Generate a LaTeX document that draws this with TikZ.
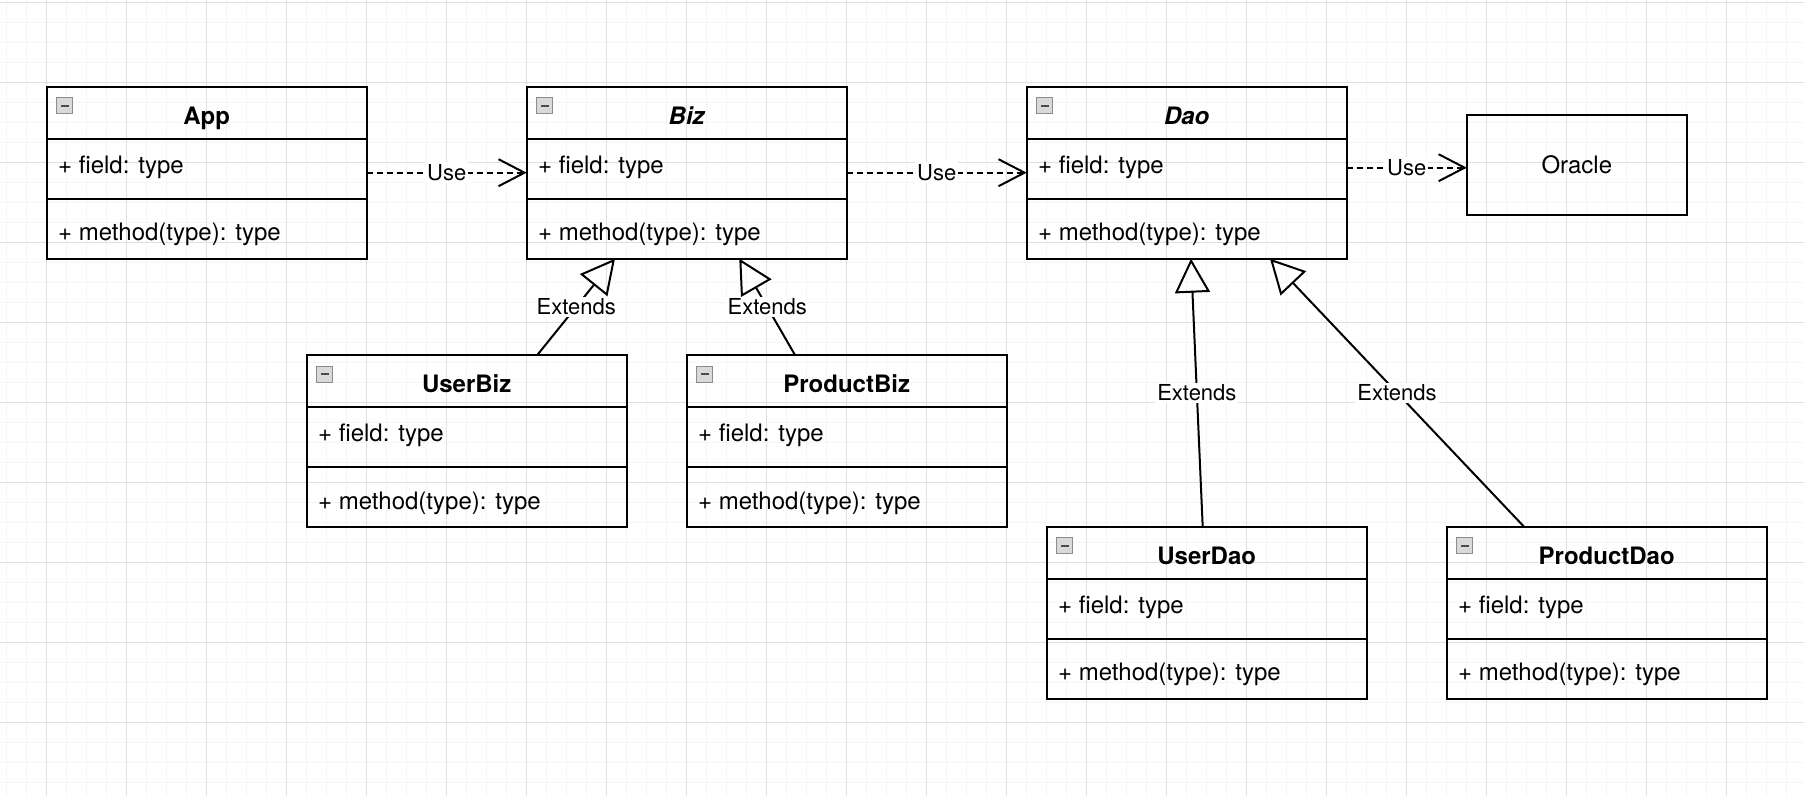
\documentclass[tikz,border=0pt]{standalone}
\usepackage{fontspec}
\setmainfont{TeX Gyre Heros}
\usetikzlibrary{arrows.meta,calc}

\tikzset{
    classbox/.style={draw,line width=1bp,minimum width=160bp,minimum height=86bp,inner sep=0pt,outer sep=0pt},
    classline/.style={line width=1bp},
    classtitle/.style={anchor=base,inner sep=0pt,font=\fontsize{12bp}{14bp}\selectfont\bfseries},
    member/.style={anchor=base west,inner sep=0pt,font=\fontsize{12bp}{14bp}\selectfont},
    iconbox/.style={fill=black!15,draw=black!45,line width=0.4bp},
    iconminus/.style={draw=black!70,line width=1.1bp},
    oraclebox/.style={draw,line width=1bp,minimum width=110bp,minimum height=50bp,inner sep=0pt,outer sep=0pt,font=\fontsize{12bp}{14bp}\selectfont},
    usearrow/.style={line width=1bp,dash pattern=on 3bp off 2bp,-{Straight Barb[length=13bp,width=13.5bp]}},
    extends/.style={line width=1bp,-{Triangle[open,length=17bp,width=17.5bp]}},
    edgelabel/.style={fill=white,inner sep=1bp,font=\fontsize{11bp}{13bp}\selectfont},
    gridminor/.style={line width=0.5bp,color=black!4},
    gridmajor/.style={line width=0.5bp,color=black!12}
}

% class box: name, centre, title
\newcommand{\umlclass}[3]{%
    \node[classbox] (#1) at (#2) {};
    \draw[classline] ([yshift=-26bp]#1.north west) -- ([yshift=-26bp]#1.north east);
    \draw[classline] ([yshift=-56bp]#1.north west) -- ([yshift=-56bp]#1.north east);
    \coordinate (#1-icon) at ([xshift=5bp,yshift=-5.5bp]#1.north west);
    \filldraw[iconbox] (#1-icon) rectangle ++(16,16);
    \draw[iconminus] ([xshift=2bp,yshift=-4bp]#1-icon) -- ++(8,0);
    \node[classtitle] (#1-title) at ([yshift=-18.65bp]#1.north) {#3};
    \node[member] (#1-field) at ([xshift=5.5bp,yshift=-43.2bp]#1.north west) {+ field: type};
    \node[member] (#1-method) at ([xshift=5.5bp,yshift=-77bp]#1.north west) {+ method(type): type};
}

\begin{document}
\begin{tikzpicture}[x=0.5bp,y=-0.5bp]

    \useasboundingbox (0,0) rectangle (1804,796);
    \fill[white] (0,0) rectangle (1804,796);

    % background grid
    \foreach \gx in {6,26,...,1804} \draw[gridminor] (\gx,0) -- (\gx,796);
    \foreach \gy in {2,22,...,796} \draw[gridminor] (0,\gy) -- (1804,\gy);
    \foreach \gx in {46,126,...,1804} \draw[gridmajor] (\gx,0) -- (\gx,796);
    \foreach \gy in {2,82,...,796} \draw[gridmajor] (0,\gy) -- (1804,\gy);

    % classes
    \umlclass{app}{206.7,172.7}{App}
    \umlclass{biz}{686.7,172.7}{\itshape Biz}
    \umlclass{dao}{1186.7,172.7}{\itshape Dao}
    \umlclass{userbiz}{466.7,441}{UserBiz}
    \umlclass{productbiz}{846.7,441}{ProductBiz}
    \umlclass{userdao}{1206.7,612.7}{UserDao}
    \umlclass{productdao}{1606.7,612.7}{ProductDao}

    \node[oraclebox] (oracle) at (1576.8,164.8) {Oracle};

    % use dependencies
    \draw[usearrow] (app.east) -- node[edgelabel] (use1) {Use} (biz.west);
    \draw[usearrow] (biz.east) -- node[edgelabel] (use2) {Use} (dao.west);
    \coordinate (oraclein) at ([yshift=-1.45bp]oracle.west);
    \draw[usearrow] (dao.east |- oraclein) -- node[edgelabel] (use3) {Use} (oraclein);

    % generalisations
    \draw[extends] ([xshift=35.3bp]userbiz.north) -- node[edgelabel] (ext1) {Extends} ([xshift=-35.85bp]biz.south);
    \draw[extends] ([xshift=-25.85bp]productbiz.north) -- node[edgelabel] (ext2) {Extends} ([xshift=26.3bp]biz.south);
    \draw[extends] ([xshift=-2bp]userdao.north) -- node[edgelabel] (ext3) {Extends} ([xshift=2.15bp]dao.south);
    \draw[extends] ([xshift=-41.35bp]productdao.north) -- node[edgelabel] (ext4) {Extends} ([xshift=41.65bp]dao.south);

\end{tikzpicture}
\end{document}
